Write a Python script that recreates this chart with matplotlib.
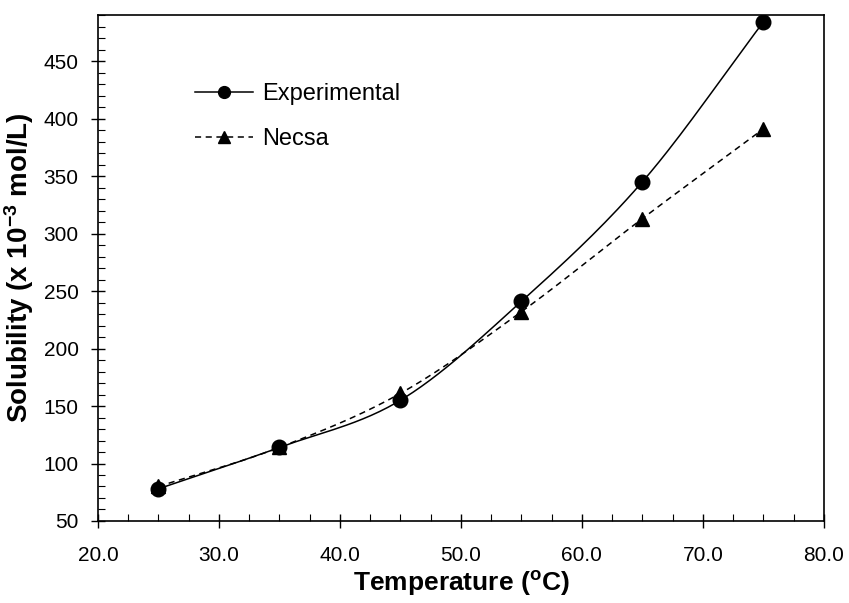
import numpy as np
import matplotlib
matplotlib.use('Agg')
import matplotlib.pyplot as plt
from matplotlib.ticker import MultipleLocator, FormatStrFormatter

plt.rcParams['font.family'] = ['Liberation Sans', 'DejaVu Sans']

# datos
temperatura = [25, 35, 45, 55, 65, 75]
experimental = [78, 114, 155, 241, 345, 484]
necsa = [80, 114, 161, 232, 313, 391]


def suavizar(x, y, n=30):
    # curva tipo Catmull-Rom (como la linea suavizada de Excel)
    x = np.asarray(x, float)
    y = np.asarray(y, float)
    px = np.concatenate([[2 * x[0] - x[1]], x, [2 * x[-1] - x[-2]]])
    py = np.concatenate([[2 * y[0] - y[1]], y, [2 * y[-1] - y[-2]]])
    xs, ys = [], []
    t = np.linspace(0, 1, n)
    for i in range(1, len(px) - 2):
        for p, out in ((px, xs), (py, ys)):
            p0, p1, p2, p3 = p[i - 1], p[i], p[i + 1], p[i + 2]
            out.extend(0.5 * ((2 * p1) + (-p0 + p2) * t
                              + (2 * p0 - 5 * p1 + 4 * p2 - p3) * t ** 2
                              + (-p0 + 3 * p1 - 3 * p2 + p3) * t ** 3))
    return xs, ys


fig = plt.figure(figsize=(8.49, 6.03), dpi=100)
ax = fig.add_axes([0.1154, 0.136, 0.855, 0.839])

xs, ys = suavizar(temperatura, experimental)
ax.plot(xs, ys, color='black', lw=1.1)
ax.plot(temperatura, experimental, 'o', color='black', ms=10.5)
xs, ys = suavizar(temperatura, necsa)
ax.plot(xs, ys, color='black', lw=1.1, ls=(0, (4, 3)))
ax.plot(temperatura, necsa, '^', color='black', ms=10.5)

# leyenda
ax.plot([], [], '-o', color='black', lw=1.1, ms=8.5, label='Experimental')
ax.plot([], [], '^', color='black', ls=(0, (4, 3)), lw=1.1, ms=8.5, label='Necsa')
ax.legend(loc='upper left', bbox_to_anchor=(0.1336, 0.866), frameon=False,
          fontsize=17, handlelength=2.45, handletextpad=0.38, labelspacing=1.0,
          borderpad=0, borderaxespad=0)

ax.set_xlim(20, 80)
ax.set_ylim(50, 490)
ax.xaxis.set_major_locator(MultipleLocator(10))
ax.xaxis.set_minor_locator(MultipleLocator(2.5))
ax.xaxis.set_major_formatter(FormatStrFormatter('%.1f'))
ax.yaxis.set_minor_locator(MultipleLocator(10))
ax.yaxis.set_ticks([50, 100, 150, 200, 250, 300, 350, 400, 450])
ax.tick_params(which='major', direction='inout', length=10, width=1, labelsize=15)
ax.tick_params(which='minor', direction='in', length=5, width=0.8)
ax.tick_params(axis='x', pad=13)
ax.tick_params(axis='y', pad=9)

ax.set_xlabel('Temperature ($\\mathregular{^{o}}$C)', fontsize=19, fontweight='bold', labelpad=3)
ax.set_ylabel('Solubility (x 10$\\mathregular{^{-3}}$ mol/L)', fontsize=20, fontweight='bold', labelpad=5)

for s in ax.spines.values():
    s.set_linewidth(1.2)

fig.savefig('out.png', dpi=100)
